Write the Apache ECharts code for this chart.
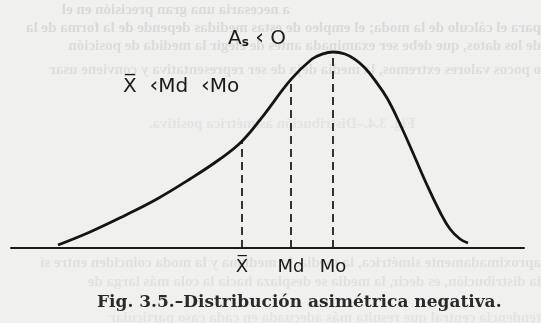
<!DOCTYPE html>
<html>
<head>
<meta charset="utf-8">
<script src="https://cdn.jsdelivr.net/npm/echarts@6/dist/echarts.min.js"></script>
<style>
  html, body { margin: 0; padding: 0; background: #f0f0ee; }
  #wrap { position: relative; width: 541px; height: 323px; }
  #back, #chart { position: absolute; left: 0; top: 0; width: 541px; height: 323px; }
  /* show-through of the facing page is read from behind, hence mirrored */
  #back { transform: scaleX(-1); }
</style>
</head>
<body>
<div id="wrap">
  <div id="back"></div>
  <div id="chart"></div>
</div>
<script>
// Density curve of a negatively skewed distribution (long tail to the left)
const curveX = [5.8, 9.0, 12.3, 15.7, 19.0, 22.0, 24.2, 26.2, 29.1, 31.2, 32.2, 33.3,
                34.5, 35.5, 36.5, 37.5, 38.7, 40.0, 41.3, 42.7, 44.0, 45.0, 46.0, 46.8];
const curveY = [1.5, 8.0, 15.8, 24.5, 34.5, 44.5, 53.4, 65.3, 84.3, 94.5, 96.9, 98.0,
                97.0, 94.3, 90.0, 83.8, 75.0, 62.0, 47.5, 31.5, 18.0, 9.5, 4.5, 2.5];

// Mean, median and mode positions with the curve height at each one
const statNames = ['X\u0305', 'Md', 'Mo'];
const statX = [24.2, 29.1, 33.3];
const statY = [53.4, 84.3, 98.0];

// Rows of the facing page that show through the paper
const backRows = [
  { y: 3,   x: 251, text: 'a necesaria una gran precisión en el',                             color: '#dadada' },
  { y: 21,  x: 0,   text: 'para el cálculo de la moda; el empleo de estas medidas depende de la forma de la', color: '#dadada' },
  { y: 39,  x: 0,   text: 'de los datos, que debe ser examinada antes de elegir la medida de posición', color: '#dcdcdc' },
  { y: 63,  x: 0,   text: 'o pocos valores extremos, la media deja de ser representativa y conviene usar', color: '#dedede' },
  { y: 117, x: 126, text: 'Fig. 3.4.\u2013Distribución asimétrica positiva.',                   color: '#e4e4e4' },
  { y: 256, x: 0,   text: 'aproximadamente simétrica, la media, la mediana y la moda coinciden entre sí', color: '#e0e0e0' },
  { y: 275, x: 0,   text: 'la distribución, es decir, la media se desplaza hacia la cola más larga de', color: '#e2e2e2' },
  { y: 311, x: 0,   text: 'tendencia central que resulta más adecuada en cada caso particular', color: '#e4e4e4' }
];

const back = echarts.init(document.getElementById('back'), null, { renderer: 'canvas' });
back.setOption({
  backgroundColor: '#f0f0ee',
  animation: false,
  graphic: backRows.map(r => ({
    type: 'text',
    x: r.x,
    y: r.y,
    silent: true,
    style: {
      text: r.text,
      fontFamily: 'Liberation Serif',
      fontWeight: 'bold',
      fontSize: 15,
      fill: r.color
    }
  }))
});

const chart = echarts.init(document.getElementById('chart'), null, { renderer: 'canvas' });

const curveData = curveX.map((x, i) => [x, curveY[i]]);

const dashedSeries = statX.map((x, i) => ({
  type: 'line',
  data: [[x, 0], [x, statY[i]]],
  symbol: 'none',
  silent: true,
  z: 2,
  lineStyle: { color: '#1e1e1e', width: 1.8, type: [8, 5] }
}));

const signStyle = { fontFamily: 'DejaVu Sans', fontSize: 22, fill: '#1a1a1a', verticalAlign: 'bottom', lineHeight: 23 };

chart.setOption({
  backgroundColor: 'transparent',
  animation: false,
  grid: { left: 11, right: 17, top: 48, bottom: 75 },
  xAxis: {
    type: 'value',
    min: 1.1,
    max: 52.4,
    splitLine: { show: false },
    axisTick: { show: false },
    axisLine: { show: true, onZero: false, lineStyle: { color: '#1a1a1a', width: 2 } },
    axisLabel: {
      customValues: statX,
      formatter: v => statNames[statX.indexOf(v)] || '',
      color: '#1a1a1a',
      fontFamily: 'DejaVu Sans',
      fontSize: 18,
      margin: 10
    }
  },
  yAxis: {
    type: 'value',
    min: 0,
    max: 100,
    show: false,
    splitLine: { show: false }
  },
  series: [
    {
      type: 'line',
      data: curveData,
      smooth: 0.4,
      symbol: 'none',
      silent: true,
      z: 3,
      lineStyle: { color: '#141414', width: 2.8 }
    },
    ...dashedSeries
  ],
  graphic: [
    {
      type: 'text',
      left: 228,
      top: 27,
      style: {
        text: '{a|A}{s|s}{a| }{lt|‹}{a| O}',
        fill: '#1a1a1a',
        rich: {
          a: { fontFamily: 'DejaVu Sans', fontSize: 20, fill: '#1a1a1a', verticalAlign: 'bottom', lineHeight: 23 },
          s: { fontFamily: 'DejaVu Sans', fontSize: 12, fontWeight: 'bold', fill: '#1a1a1a', verticalAlign: 'bottom', lineHeight: 18 },
          lt: signStyle
        }
      }
    },
    {
      type: 'text',
      left: 123,
      top: 75,
      style: {
        text: '{a|X\u0305  }{lt|‹}{a|Md  }{lt|‹}{a|Mo}',
        fill: '#1a1a1a',
        rich: {
          a: { fontFamily: 'DejaVu Sans', fontSize: 20, fill: '#1a1a1a', verticalAlign: 'bottom', lineHeight: 23 },
          lt: signStyle
        }
      }
    },
    {
      type: 'text',
      left: 97,
      top: 294,
      style: {
        text: 'Fig. 3.5.\u2013Distribución asimétrica negativa.',
        fontFamily: 'DejaVu Serif',
        fontSize: 17,
        fontWeight: 'bold',
        fill: '#2a2a2a'
      }
    }
  ]
});
</script>
</body>
</html>
